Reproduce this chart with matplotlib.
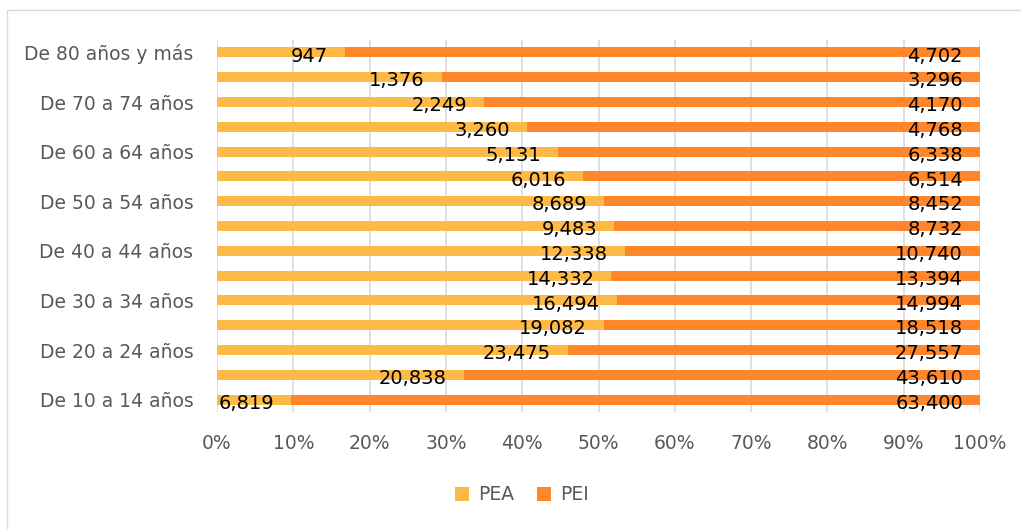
import numpy as np
import matplotlib.pyplot as plt
from matplotlib.patches import Rectangle

# age groups, bottom to top
categories = ['De 10 a 14 años', 'De 15 a 19 años', 'De 20 a 24 años', 'De 25 a 29 años',
              'De 30 a 34 años', 'De 35 a 39 años', 'De 40 a 44 años', 'De 45 a 49 años',
              'De 50 a 54 años', 'De 55 a 59 años', 'De 60 a 64 años', 'De 65 a 69 años',
              'De 70 a 74 años', 'De 75 a 79 años', 'De 80 años y más']
pea = [6819, 20838, 23475, 19082, 16494, 14332, 12338, 9483, 8689, 6016, 5131, 3260, 2249, 1376, 947]
pei = [63400, 43610, 27557, 18518, 14994, 13394, 10740, 8732, 8452, 6514, 6338, 4768, 4170, 3296, 4702]
x_ticks = [0, 0.1, 0.2, 0.3, 0.4, 0.5, 0.6, 0.7, 0.8, 0.9, 1.0]

c_pea = '#FFB946'
c_pei = '#FF862A'
txt_grey = '#595959'

pea_a = np.array(pea, dtype=float)
pei_a = np.array(pei, dtype=float)
total = pea_a + pei_a
pea_s = pea_a / total
pei_s = pei_a / total
y = np.arange(len(categories))

fig = plt.figure(figsize=(10.21, 5.29), dpi=100)
ax = fig.add_axes([217 / 1021, 1 - 412 / 529, 763 / 1021, 372 / 529])

ax.barh(y, pea_s, height=0.4, color=c_pea, label='PEA', zorder=2)
ax.barh(y, pei_s, left=pea_s, height=0.4, color=c_pei, label='PEI', zorder=2)

# labels sit at the inside end of each segment, a bit low
pad = 17 / 763
for i in y:
    ax.text(pea_s[i] - pad, i - 0.15, f'{pea[i]:,}', ha='right', va='center',
            fontsize=14, color='black', zorder=3)
    ax.text(1 - pad, i - 0.15, f'{pei[i]:,}', ha='right', va='center',
            fontsize=14, color='black', zorder=3)

ax.set_xlim(0, 1)
ax.set_ylim(-0.5, 14.5)
ax.set_xticks(x_ticks)
ax.set_xticklabels([f'{int(round(t * 100))}%' for t in x_ticks])
ax.set_yticks(y[::2])
ax.set_yticklabels(categories[::2])
ax.tick_params(axis='both', length=0, colors=txt_grey)
ax.tick_params(axis='x', pad=16, labelsize=13.5)
ax.tick_params(axis='y', pad=17, labelsize=13.5)
ax.grid(axis='x', color='#D9D9D9', linewidth=1.2, zorder=0)
for s in ax.spines.values():
    s.set_visible(False)

ax.legend(loc='center', bbox_to_anchor=(522 / 1021, 1 - 495 / 529), bbox_transform=fig.transFigure,
          ncol=2, frameon=False, fontsize=13.5, labelcolor=txt_grey,
          handlelength=0.75, handleheight=0.75, handletextpad=0.5, columnspacing=1.2)

# chart border
fig.patches.append(Rectangle((7 / 1021, -0.01), 1.02, 1 - 10 / 529 + 0.01, transform=fig.transFigure,
                             fill=False, edgecolor='#D9D9D9', linewidth=1))

fig.savefig('out.png', dpi=100)
